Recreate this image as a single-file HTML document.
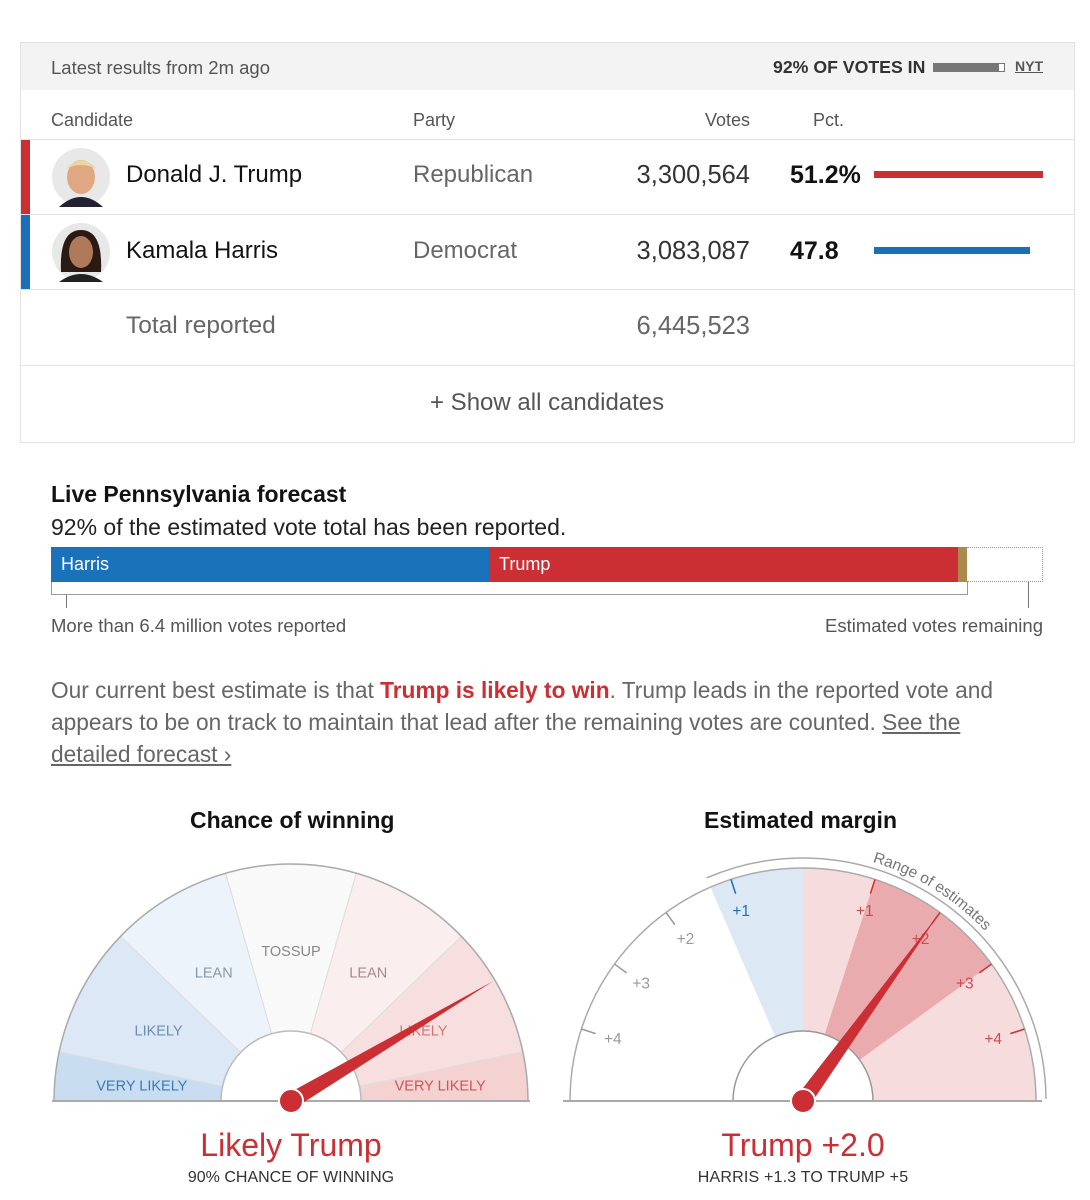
<!DOCTYPE html>
<html><head><meta charset="utf-8">
<style>
body{margin:0;background:#fff;font-family:"Liberation Sans",sans-serif;color:#121212;}
.wrap{position:relative;width:1090px;height:1200px;overflow:hidden;}
.abs{position:absolute;}
.box{left:20px;top:42px;width:1053px;height:400px;border:1px solid #e2e2e2;border-bottom:none;}
.hdr{left:21px;top:43px;width:1053px;height:47px;background:#f3f3f3;}
.line{height:1px;background:#e2e2e2;left:21px;width:1053px;}
.t{position:absolute;white-space:nowrap;}
.r{position:absolute;white-space:nowrap;text-align:right;}
</style></head><body>
<div class="wrap">
<div class="abs box"></div>
<div class="abs hdr"></div>
<div class="t" style="left:51px;top:57px;font-size:18.5px;color:#555">Latest results from 2m ago</div>
<div class="t" style="left:773px;top:57px;font-size:17.7px;font-weight:bold;color:#333">92% OF VOTES IN</div>
<div class="abs" style="left:933px;top:63px;width:70px;height:7px;background:#777;border:1px solid #777"><div style="position:absolute;right:0;top:0;width:5px;height:7px;background:#fff"></div></div>
<div class="t" style="left:1015px;top:58px;font-size:14px;font-weight:bold;color:#555;text-decoration:underline">NYT</div>

<div class="t" style="left:51px;top:110px;font-size:18px;color:#555">Candidate</div>
<div class="t" style="left:413px;top:110px;font-size:18px;color:#555">Party</div>
<div class="r" style="right:340px;top:110px;font-size:18px;color:#555">Votes</div>
<div class="t" style="left:813px;top:110px;font-size:18px;color:#555">Pct.</div>
<div class="abs line" style="top:139px"></div>

<div class="abs" style="left:21px;top:140px;width:9px;height:75px;background:#cc2f33"></div>
<svg class="abs" style="left:51px;top:147px" width="60" height="60"><circle cx="30" cy="30" r="29" fill="#e8e8e8"/><ellipse cx="30" cy="30" rx="14" ry="17" fill="#e0a882"/><path d="M15 22 Q30 5 46 22 Q30 14 15 22Z" fill="#e8d8a0"/><path d="M8 60 Q30 40 52 60Z" fill="#223"/></svg>
<div class="t" style="left:126px;top:161px;font-size:24px">Donald J. Trump</div>
<div class="t" style="left:413px;top:161px;font-size:24px;color:#666">Republican</div>
<div class="r" style="right:340px;top:161px;font-size:25.5px;color:#333">3,300,564</div>
<div class="t" style="left:790px;top:161px;font-size:25px;font-weight:bold">51.2%</div>
<div class="abs" style="left:874px;top:171px;width:169px;height:7px;background:#cc2f33"></div>
<div class="abs line" style="top:214px"></div>

<div class="abs" style="left:21px;top:215px;width:9px;height:75px;background:#1a6fb8"></div>
<svg class="abs" style="left:51px;top:222px" width="60" height="60"><circle cx="30" cy="30" r="29" fill="#e8e8e8"/><path d="M10 50 Q8 8 30 8 Q52 8 50 50Z" fill="#2a1a14"/><ellipse cx="30" cy="30" rx="12" ry="16" fill="#b07a5a"/><path d="M8 60 Q30 44 52 60Z" fill="#222"/></svg>
<div class="t" style="left:126px;top:237px;font-size:24px">Kamala Harris</div>
<div class="t" style="left:413px;top:237px;font-size:24px;color:#666">Democrat</div>
<div class="r" style="right:340px;top:237px;font-size:25.5px;color:#333">3,083,087</div>
<div class="t" style="left:790px;top:237px;font-size:25px;font-weight:bold">47.8</div>
<div class="abs" style="left:874px;top:247px;width:156px;height:7px;background:#1a6fb8"></div>
<div class="abs line" style="top:289px"></div>

<div class="t" style="left:126px;top:312px;font-size:24.5px;color:#666">Total reported</div>
<div class="r" style="right:340px;top:312px;font-size:25.5px;color:#666">6,445,523</div>
<div class="abs line" style="top:365px"></div>
<div class="t" style="left:430px;top:389px;font-size:24px;color:#555">+ Show all candidates</div>
<div class="abs line" style="top:442px"></div>

<div class="t" style="left:51px;top:481px;font-size:23px;font-weight:bold">Live Pennsylvania forecast</div>
<div class="t" style="left:51px;top:514px;font-size:23px;color:#222">92% of the estimated vote total has been reported.</div>
<div class="abs" style="left:51px;top:547px;width:438px;height:35px;background:#1a73ba"><span style="position:absolute;left:10px;top:7px;color:#fff;font-size:18px">Harris</span></div>
<div class="abs" style="left:489px;top:547px;width:469px;height:35px;background:#cc2f33"><span style="position:absolute;left:10px;top:7px;color:#fff;font-size:18px">Trump</span></div>
<div class="abs" style="left:958px;top:547px;width:9px;height:35px;background:#a98a4c"></div>
<div class="abs" style="left:967px;top:547px;width:75px;height:33px;border:1px dotted #999;border-left:none"></div>
<div class="abs" style="left:51px;top:582px;width:915px;height:12px;border:1px solid #999;border-top:none"></div>
<div class="abs" style="left:66px;top:595px;width:1px;height:13px;background:#777"></div>
<div class="abs" style="left:1028px;top:582px;width:1px;height:26px;background:#777"></div>
<div class="t" style="left:51px;top:615px;font-size:18.5px;color:#555">More than 6.4 million votes reported</div>
<div class="r" style="right:47px;top:615px;font-size:18.5px;color:#555">Estimated votes remaining</div>

<div class="abs" style="left:51px;top:674px;width:960px;font-size:22.7px;line-height:32px;color:#666">Our current best estimate is that <b style="color:#cc2f33">Trump is likely to win</b>. Trump leads in the reported vote and appears to be on track to maintain that lead after the remaining votes are counted. <span style="text-decoration:underline">See the detailed forecast ›</span></div>

<div class="t" style="left:190px;top:807px;font-size:23px;font-weight:bold">Chance of winning</div>
<div class="t" style="left:704px;top:807px;font-size:23px;font-weight:bold">Estimated margin</div>

<svg class="abs" style="left:0;top:0" width="1090" height="1200" id="g"></svg>

<div class="t" style="left:0;width:582px;text-align:center;top:1127px;font-size:32px;color:#cc2f33">Likely Trump</div>
<div class="t" style="left:0;width:582px;text-align:center;top:1169px;font-size:16px;color:#333">90% CHANCE OF WINNING</div>
<div class="t" style="left:512px;width:582px;text-align:center;top:1127px;font-size:32px;color:#cc2f33">Trump +2.0</div>
<div class="t" style="left:512px;width:582px;text-align:center;top:1169px;font-size:16px;letter-spacing:0.2px;color:#333">HARRIS +1.3 TO TRUMP +5</div>
</div>
<script>
// Chance gauge data
const chanceBounds=[0,5,15,35,65,85,97,100];
const chanceLabels=["VERY LIKELY","LIKELY","LEAN","TOSSUP","LEAN","LIKELY","VERY LIKELY"];
const chanceValue=90;
// Margin gauge data (negative = Harris, positive = Trump)
const marginTicks=[-4,-3,-2,-1,1,2,3,4];
const marginTickLabels=["+4","+3","+2","+1","+1","+2","+3","+4"];
const marginLow=-1.3, marginHigh=5, marginMidLow=1, marginMidHigh=3, marginValue=2.0;

const NS="http://www.w3.org/2000/svg", svg=document.getElementById('g');
function mk(tag,attrs,name){const e=document.createElementNS(NS,tag);for(const k in attrs)e.setAttribute(k,attrs[k]);


svg.appendChild(e);return e;}
function pt(cx,cy,r,a){const t=a*Math.PI/180;return [cx+r*Math.cos(t),cy-r*Math.sin(t)];}
function wedge(cx,cy,r,a0,a1){const p1=pt(cx,cy,r,a0),p2=pt(cx,cy,r,a1);const big=Math.abs(a0-a1)>180?1:0;
return `M${cx},${cy}L${p1[0]},${p1[1]}A${r} ${r} 0 ${big} ${a0>a1?1:0} ${p2[0]},${p2[1]}Z`;}
const chanceAngles=[180,168,136,106,74,44,12,0];
function chanceA(v){for(let i=0;i<chanceBounds.length-1;i++){if(v<=chanceBounds[i+1]){const f=(v-chanceBounds[i])/(chanceBounds[i+1]-chanceBounds[i]);return chanceAngles[i]+f*(chanceAngles[i+1]-chanceAngles[i]);}}return 0;}
const fills=["#c9ddf0","#dce8f5","#edf3fa","#f9f9f9","#fbeeee","#f7dfdf","#f5d2d2"];
const txtc=["#3a7ab8","#6a8cb0","#8798aa","#888","#a88","#c77","#c55"];
let C=[291,1101],R=237,RI=70;
for(let i=0;i<7;i++){const a0=chanceA(chanceBounds[i]),a1=chanceA(chanceBounds[i+1]);
mk('path',{d:wedge(C[0],C[1],R,a0,a1),fill:fills[i],stroke:'#ddd','stroke-width':1},'chance-sector');
const m=(chanceAngles[i]+chanceAngles[i+1])/2,p=pt(C[0],C[1],150,m);
const t=mk('text',{x:p[0],y:p[1]+5,'text-anchor':'middle','font-size':14.5,fill:txtc[i],'font-family':'Liberation Sans'},'chance-label');t.textContent=chanceLabels[i];}
mk('path',{d:`M${C[0]-R},${C[1]}A${R} ${R} 0 0 1 ${C[0]+R},${C[1]}`,fill:'none',stroke:'#aaa','stroke-width':1.5},'chance-outline');
mk('path',{d:`M${C[0]-RI},${C[1]}A${RI} ${RI} 0 0 1 ${C[0]+RI},${C[1]}Z`,fill:'#fff',stroke:'#bbb','stroke-width':1.5},'chance-hub');
mk('line',{x1:52,y1:C[1],x2:530,y2:C[1],stroke:'#aaa','stroke-width':2},'chance-baseline');
function needle(cx,cy,len,a,name){const tip=pt(cx,cy,len,a),l=pt(cx,cy,8,a+90),r=pt(cx,cy,8,a-90);
mk('path',{d:`M${l}L${tip}L${r}Z`,fill:'#cc2f33'},name);
mk('circle',{cx:cx,cy:cy,r:12,fill:'#cc2f33',stroke:'#fff','stroke-width':2},name+'-pivot');}
needle(C[0],C[1],235,chanceA(chanceValue),'chance-needle');

// Margin gauge
C=[803,1101];R=233;
const mA=v=>90-v*18;
mk('path',{d:`M${C[0]-R},${C[1]}A${R} ${R} 0 0 1 ${C[0]+R},${C[1]}Z`,fill:'#fff'},'margin-bg');
mk('path',{d:wedge(C[0],C[1],R,mA(marginLow),mA(0)),fill:'#dce9f4'},'margin-harris-range');
mk('path',{d:wedge(C[0],C[1],R,mA(0),mA(marginHigh)),fill:'#f7dcde'},'margin-trump-range');
mk('path',{d:wedge(C[0],C[1],R,mA(marginMidLow),mA(marginMidHigh)),fill:'#eaabaf'},'margin-likely-range');
mk('path',{d:`M${C[0]-R},${C[1]}A${R} ${R} 0 0 1 ${C[0]+R},${C[1]}`,fill:'none',stroke:'#aaa','stroke-width':1.5},'margin-outline');
marginTicks.forEach((v,i)=>{const a=mA(v),p1=pt(C[0],C[1],R-15,a),p2=pt(C[0],C[1],R,a),q=pt(C[0],C[1],200,a);
const col=v<0?(v>=marginLow?'#1a6fb8':'#999'):'#cc2f33';
mk('line',{x1:p1[0],y1:p1[1],x2:p2[0],y2:p2[1],stroke:col,'stroke-width':1.5},'margin-tick');
const t=mk('text',{x:q[0],y:q[1]+5,'text-anchor':'middle','font-size':15.5,fill:v<0?(v>=marginLow?'#1a6fb8':'#999'):'#cc4a50','font-family':'Liberation Sans'},'margin-tick-label');t.textContent=marginTickLabels[i];});
mk('path',{d:`M${C[0]-RI},${C[1]}A${RI} ${RI} 0 0 1 ${C[0]+RI},${C[1]}Z`,fill:'#fff',stroke:'#999','stroke-width':1.5},'margin-hub');
mk('line',{x1:563,y1:C[1],x2:1042,y2:C[1],stroke:'#aaa','stroke-width':2},'margin-baseline');
const RR=R+10,ra=pt(C[0],C[1],RR,mA(marginLow)),rb=pt(C[0],C[1],RR,mA(marginHigh)+0.5);
mk('path',{d:`M${ra}A${RR} ${RR} 0 0 1 ${rb}`,fill:'none',stroke:'#aaa','stroke-width':1.5},'range-arc');
mk('path',{id:'rp',d:`M${pt(C[0],C[1],RR+6,mA(0.9))}A${RR+6} ${RR+6} 0 0 1 ${pt(C[0],C[1],RR+6,mA(4.2))}`,fill:'none'},'range-text-path');
const rt=mk('text',{'font-size':15.5,fill:'#777','font-family':'Liberation Sans'},'range-label');
const trp=document.createElementNS(NS,'textPath');trp.setAttribute('href','#rp');trp.textContent='Range of estimates';rt.appendChild(trp);
needle(C[0],C[1],233,mA(marginValue),'margin-needle');
</script>
</body></html>
